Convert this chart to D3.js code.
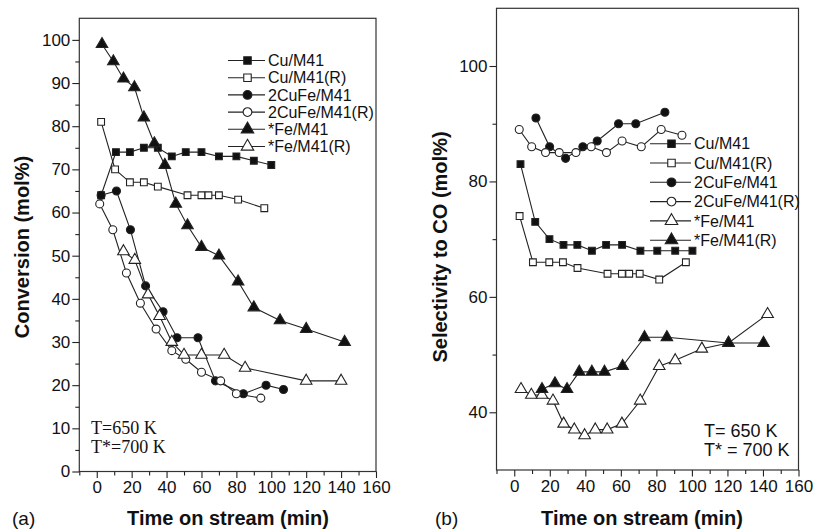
<!DOCTYPE html>
<meta charset="utf-8">
<style>
body { margin: 0; background: #fff; }
svg { font-family: "Liberation Sans", Arial, sans-serif; }
.axis path { display: none; }
.axis line { stroke: #222; stroke-width: 1.1; }
.axis text { font-size: 17px; fill: #111; }
.frame { fill: none; stroke: #333; stroke-width: 1.2; }
.series { fill: none; stroke: #222; stroke-width: 1.1; }
.title { font-weight: bold; font-size: 20px; fill: #111; }
.legend text { font-size: 16px; fill: #111; }
</style>
<svg width="814" height="530"></svg>
<script src="https://d3js.org/d3.v7.min.js"></script>
<script>

// (a) conversion, mol%  -- [time (min), value]
var convCu     = [[2.5,64],[11,74],[19,74],[27,75],[35,75],[43,73],[51,74],[60,74],[70,73],[80,73],[90,72],[100,71]];
var convCuR    = [[2.5,81],[10.5,70],[19,67],[27,67],[35,66],[52,64],[60,64],[64,64],[70,64],[81,63],[96,61]];
var conv2CuFe  = [[2.5,64],[11.3,65],[19.3,56],[28,43],[38,37],[46,31],[58,31],[68,21],[84,18],[97,20],[107,19]];
var conv2CuFeR = [[1.7,62],[9.2,56],[17,46],[25,39],[34,33],[43,28],[51,26],[60,23],[71,21],[80,18],[94,17]];
var convFe     = [[3,99],[9.5,95],[15.3,91],[21.6,89],[27,82],[33,76],[39,71],[45.3,62],[52,57],[60,52],[70,50],[81,44],[90,38],[105,35],[120,33],[142,30]];
var convFeR    = [[15.3,51],[21.8,49],[29.4,41],[36,36],[43,30],[50,27],[60,27],[73,27],[85,24],[120,21],[140,21]];

// (b) selectivity to CO, mol%
var selCu      = [[3.5,83],[11.8,73],[19.8,70],[27.7,69],[35.5,69],[43.7,68],[51.7,69],[60.7,69],[71,68],[80.5,68],[90.6,68],[100.3,68]];
var selCuR     = [[3,74],[10.5,66],[19.7,66],[27.4,66],[35.6,65],[52.5,64],[60.6,64],[64.7,64],[70.6,64],[81.6,63],[96.6,66]];
var sel2CuFe   = [[12.2,91],[19.9,86],[28.9,84],[38.6,86],[46.7,87],[58.7,90],[68.4,90],[84.8,92]];
var sel2CuFeR  = [[2.8,89],[9.8,86],[17.6,85],[25.3,85],[34.7,85],[43.3,86],[51.9,85],[60.7,87],[71.5,86],[82.7,89],[94.4,88]];
var selFe      = [[3.8,44],[9.6,43],[15.6,43],[21.8,42],[27.8,38],[33.8,37],[39.6,36],[45.6,37],[52.3,37],[60.6,38],[70.9,42],[81.6,48],[90.6,49],[105.6,51],[120.6,52],[142.6,57]];
var selFeR     = [[15.6,44],[22.9,45],[29.7,44],[36.6,47],[43.7,47],[50.8,47],[61,48],[73.3,53],[85.9,53],[120.6,52],[140.3,52]];

var xTicks = [0,20,40,60,80,100,120,140,160];

var svg = d3.select("svg");

var shapes = {
  square: d3.symbolSquare,
  circle: d3.symbolCircle,
  triangle: d3.symbolTriangle
};
var sizes = { square: 46, circle: 50, triangle: 58 };

function drawPanel(p) {
  var x = d3.scaleLinear().domain([-10, 160]).range(p.xr),
      y = d3.scaleLinear().domain(p.yd).range(p.yr);

  svg.append("rect").attr("class", "frame")
    .attr("x", p.xr[0]).attr("y", p.yr[1])
    .attr("width", p.xr[1] - p.xr[0]).attr("height", p.yr[0] - p.yr[1]);

  // minor ticks first, then major
  svg.append("g").attr("class", "axis")
    .attr("transform", "translate(0," + p.yr[0] + ")")
    .call(d3.axisBottom(x).tickValues(d3.range(-10, 160, 20)).tickSize(4).tickFormat(""));
  svg.append("g").attr("class", "axis")
    .attr("transform", "translate(0," + p.yr[0] + ")")
    .call(d3.axisBottom(x).tickValues(xTicks).tickSize(6.5).tickPadding(3).tickFormat(d3.format("d")));

  svg.append("g").attr("class", "axis")
    .attr("transform", "translate(" + p.xr[0] + ",0)")
    .call(d3.axisLeft(y).tickValues(p.yMinor).tickSize(4).tickFormat(""));
  svg.append("g").attr("class", "axis")
    .attr("transform", "translate(" + p.xr[0] + ",0)")
    .call(d3.axisLeft(y).tickValues(p.yTicks).tickSize(7).tickPadding(2).tickFormat(d3.format("d")));

  var line = d3.line().x(function(d) { return x(d[0]); }).y(function(d) { return y(d[1]); });

  p.series.forEach(function(s) {
    svg.append("path").attr("class", "series").attr("d", line(s.data));
    svg.append("g").selectAll("path")
      .data(s.data)
      .enter().append("path")
        .attr("d", d3.symbol().type(shapes[s.shape]).size(sizes[s.shape]))
        .attr("transform", function(d) { return "translate(" + x(d[0]) + "," + y(d[1]) + ")"; })
        .attr("fill", s.filled ? "#111" : "#fff")
        .attr("stroke", "#222")
        .attr("stroke-width", 1.1);
  });

  // legend
  var lg = svg.append("g").attr("class", "legend");
  p.series.forEach(function(s, i) {
    var ly = p.leg.y + i * p.leg.dy;
    lg.append("line")
      .attr("x1", p.leg.x).attr("x2", p.leg.x + p.leg.len)
      .attr("y1", ly).attr("y2", ly)
      .attr("stroke", "#222").attr("stroke-width", 1.1);
    lg.append("path")
      .attr("d", d3.symbol().type(shapes[s.shape]).size(sizes[s.shape] + 10))
      .attr("transform", "translate(" + (p.leg.x + p.leg.len / 2 + 1) + "," + ly + ")")
      .attr("fill", s.filled ? "#111" : "#fff")
      .attr("stroke", "#222").attr("stroke-width", 1.1);
    lg.append("text")
      .attr("x", p.leg.x + p.leg.len + 3).attr("y", ly).attr("dy", "0.35em")
      .text(s.name);
  });

  // titles
  svg.append("text").attr("class", "title")
    .attr("text-anchor", "middle")
    .attr("transform", "translate(" + p.yTitle[0] + "," + p.yTitle[1] + ") rotate(-90)")
    .text(p.yLabel);
  svg.append("text").attr("class", "title")
    .attr("text-anchor", "middle")
    .attr("x", p.xTitle[0]).attr("y", p.xTitle[1])
    .text("Time on stream (min)");
  svg.append("text")
    .attr("x", p.tag[0]).attr("y", p.tag[1])
    .style("font-size", "19px").attr("fill", "#111")
    .text(p.tagText);

  // temperature note
  var note = svg.append("text")
    .style("font-family", p.noteFont).style("font-size", p.noteSize).attr("fill", "#111");
  p.note.forEach(function(t, i) {
    note.append("tspan").attr("x", p.notePos[0]).attr("y", p.notePos[1] + i * 18.5).text(t);
  });
}

drawPanel({
  xr: [79.3, 376], yd: [0, 105], yr: [471.5, 18.3],
  yTicks: d3.range(0, 101, 10), yMinor: d3.range(5, 100, 10),
  series: [
    { name: "Cu/M41", data: convCu, shape: "square", filled: true },
    { name: "Cu/M41(R)", data: convCuR, shape: "square", filled: false },
    { name: "2CuFe/M41", data: conv2CuFe, shape: "circle", filled: true },
    { name: "2CuFe/M41(R)", data: conv2CuFeR, shape: "circle", filled: false },
    { name: "*Fe/M41", data: convFe, shape: "triangle", filled: true },
    { name: "*Fe/M41(R)", data: convFeR, shape: "triangle", filled: false }
  ],
  leg: { x: 228, y: 60.5, dy: 17.2, len: 37 },
  yLabel: "Conversion (mol%)", yTitle: [29, 247],
  xTitle: [228, 525], tag: [12, 525], tagText: "(a)",
  note: ["T=650 K", "T*=700 K"], notePos: [91, 434],
  noteFont: "'Liberation Serif', 'Times New Roman', serif", noteSize: "18px"
});

drawPanel({
  xr: [496.5, 798.5], yd: [30, 110], yr: [470, 8.3],
  yTicks: [40, 60, 80, 100], yMinor: [50, 70, 90],
  series: [
    { name: "Cu/M41", data: selCu, shape: "square", filled: true },
    { name: "Cu/M41(R)", data: selCuR, shape: "square", filled: false },
    { name: "2CuFe/M41", data: sel2CuFe, shape: "circle", filled: true },
    { name: "2CuFe/M41(R)", data: sel2CuFeR, shape: "circle", filled: false },
    { name: "*Fe/M41", data: selFe, shape: "triangle", filled: false },
    { name: "*Fe/M41(R)", data: selFeR, shape: "triangle", filled: true }
  ],
  leg: { x: 650, y: 143.7, dy: 19.3, len: 41 },
  yLabel: "Selectivity to CO (mol%)", yTitle: [447, 247],
  xTitle: [642, 525], tag: [435, 525], tagText: "(b)",
  note: ["T= 650 K", "T* = 700 K"], notePos: [704, 437],
  noteFont: "'Liberation Sans', Arial, sans-serif", noteSize: "18px"
});

</script>
